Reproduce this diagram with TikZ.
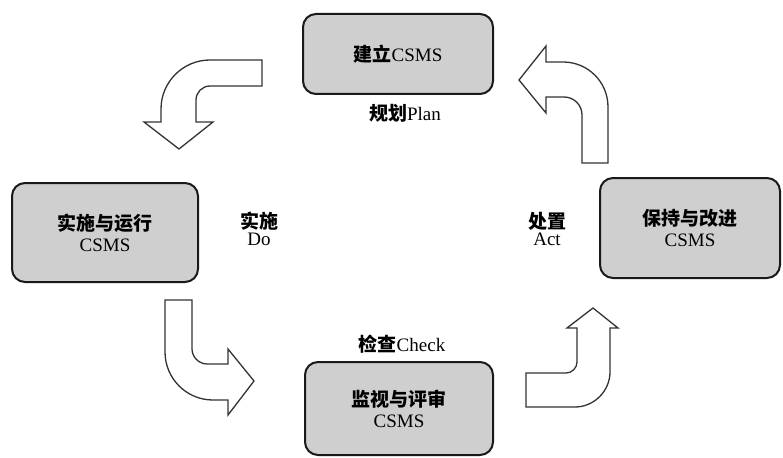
\documentclass[tikz,border=0pt]{standalone}
\usepackage{fontspec}
\setmainfont{Liberation Serif}
\newfontfamily\cjk{Noto Sans CJK SC}
\newcommand{\zh}[1]{{\cjk\bfseries #1}}
\begin{document}
\begin{tikzpicture}[x=1pt,y=-1pt,
  box/.style={draw=black!90, line width=2pt, rounded corners=13pt, fill=gray!38,
    inner sep=0pt, align=center, font=\fontsize{19}{21}\selectfont},
  lbl/.style={inner sep=0pt, align=center, font=\fontsize{19}{17}\selectfont},
  blockarrow/.style={draw=black!80, line width=1.3pt, fill=white, line join=miter}]
\useasboundingbox (0,0) rectangle (783,457);

% boxes
\node[box, minimum width=190pt, minimum height=80pt] (plan) at (398,54) {\zh{建立}CSMS};
\node[box, minimum width=186pt, minimum height=99pt] (do) at (105,232.5) {\zh{实施与运行}\\CSMS};
\node[box, minimum width=180pt, minimum height=100pt] (act) at (690,228) {\zh{保持与改进}\\CSMS};
\node[box, minimum width=188pt, minimum height=93pt] (check) at (399,408.5) {\zh{监视与评审}\\CSMS};

% labels
\node[lbl] (lplan) at (405,113) {\zh{规划}Plan};
\node[lbl] (ldo) at (259,229) {\zh{实施}\\Do};
\node[lbl] (lact) at (547,229) {\zh{处置}\\Act};
\node[lbl] (lcheck) at (402,344) {\zh{检查}Check};

% block arrows
% Plan -> Do
\draw[blockarrow] (262,60) -- (210,60) .. controls (183,60) and (161,82) .. (161,109)
  -- (161,122) -- (144,122) -- (179,149) -- (213,122) -- (196,122) -- (196,100)
  .. controls (196,92.3) and (202.3,86) .. (210,86) -- (262,86) -- cycle;
% Act -> Plan
\draw[blockarrow] (582,163) -- (582,115) .. controls (582,105) and (574,97) .. (564,97)
  -- (546,97) -- (546,113) -- (519,80) -- (546,46) -- (546,62) -- (563,62)
  .. controls (588,62) and (608,82) .. (608,107) -- (608,163) -- cycle;
% Do -> Check
\draw[blockarrow] (165,300) -- (192,300) -- (192,349) .. controls (192,357) and (199,364) .. (207,364)
  -- (228,364) -- (228,349) -- (254,381) -- (228,415) -- (228,400) -- (213,400)
  .. controls (186,400) and (165,378) .. (165,352) -- cycle;
% Check -> Act
\draw[blockarrow] (526,373) -- (566,373) .. controls (572,373) and (577,368) .. (577,362)
  -- (577,328) -- (567,328) -- (593,308) -- (618,328) -- (610,328) -- (610,372)
  .. controls (610,391) and (594,407) .. (575,407) -- (526,407) -- cycle;
\end{tikzpicture}
\end{document}
